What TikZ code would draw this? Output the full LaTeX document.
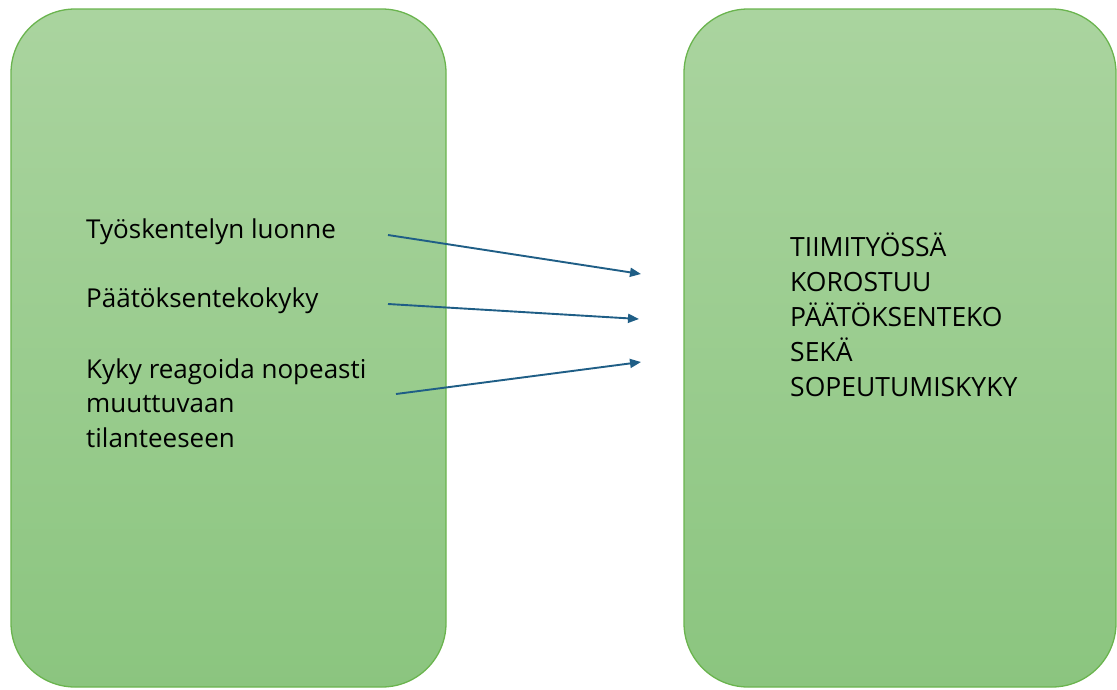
\documentclass[tikz,border=0pt]{standalone}
\usepackage{fontspec}
\setmainfont{Open Sans}
\usetikzlibrary{arrows.meta}
\definecolor{boxtop}{RGB}{170,212,159}
\definecolor{boxbottom}{RGB}{139,197,127}
\definecolor{boxline}{RGB}{106,180,78}
\definecolor{arrowblue}{RGB}{31,94,134}
\tikzset{
  panel/.style={draw=boxline, line width=1.3pt, rounded corners=64pt,
    top color=boxtop, bottom color=boxbottom},
  label/.style={anchor=base west, align=left, inner sep=0pt,
    font=\fontsize{26}{34.5}\selectfont},
  link/.style={draw=arrowblue, line width=1.9pt,
    -{Triangle[length=11pt,width=9pt]}}
}
\begin{document}
\begin{tikzpicture}[x=1pt,y=-1pt]
  \useasboundingbox (0,0) rectangle (1117,689);
  % two panels
  \path[panel] (11,9) rectangle (446,687);
  \path[panel] (684,9) rectangle (1116,687);
  % left panel texts (a multi-line node sits on its last baseline)
  \node[label] (t1) at (86,238) {Työskentelyn luonne};
  \node[label] (t2) at (86,307) {Päätöksentekokyky};
  \node[label] (t3) at (86,447) {Kyky reagoida nopeasti\\muuttuvaan\\tilanteeseen};
  % right panel text
  \node[label, font=\fontsize{26.5}{35}\selectfont] (r) at (790,396)
    {TIIMITYÖSSÄ\\KOROSTUU\\PÄÄTÖKSENTEKO\\SEKÄ\\SOPEUTUMISKYKY};
  % arrow end points
  \coordinate (s1) at (388,235);
  \coordinate (e1) at (641,274);
  \coordinate (s2) at (388,304);
  \coordinate (e2) at (639,319);
  \coordinate (s3) at (396,394);
  \coordinate (e3) at (641,362);
  \path[link] (s1) -- (e1);
  \path[link] (s2) -- (e2);
  \path[link] (s3) -- (e3);
\end{tikzpicture}
\end{document}
